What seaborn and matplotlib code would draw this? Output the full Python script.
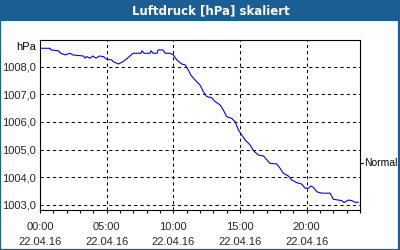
import matplotlib
matplotlib.use("Agg")
import matplotlib.pyplot as plt
import matplotlib.transforms as mtransforms
from matplotlib.patches import Rectangle
import seaborn as sns
import pandas as pd

# ---- data (hours after 22.04.16 00:00, pressure in hPa) ----
hours = [0.00, 0.75, 0.83, 1.37, 1.55, 1.88, 2.25, 2.45, 3.25, 3.38, 3.50, 3.75,
         3.95, 4.20, 4.45, 4.75, 5.00, 5.38, 5.50, 5.88, 6.20, 6.55, 6.75, 6.98,
         7.58, 7.65, 7.80, 8.25, 8.33, 8.48, 8.78, 8.85, 9.23, 9.38, 9.75, 10.00,
         10.25, 10.63, 10.88, 11.13, 11.31, 11.63, 12.00, 12.25, 12.51, 12.88,
         13.13, 13.50, 13.75, 14.01, 14.38, 14.63, 14.88, 15.13, 15.38, 15.75,
         16.00, 16.38, 16.75, 17.01, 17.25, 17.75, 18.01, 18.25, 18.63, 18.88,
         19.26, 19.63, 19.88, 20.13, 20.31, 20.50, 20.76, 21.13, 21.76, 22.00,
         22.63, 22.81, 23.13, 23.38, 23.63, 23.88]
pressure = [1008.67, 1008.67, 1008.61, 1008.58, 1008.49, 1008.43, 1008.49, 1008.43,
            1008.39, 1008.31, 1008.37, 1008.31, 1008.39, 1008.31, 1008.39, 1008.37,
            1008.27, 1008.25, 1008.18, 1008.10, 1008.18, 1008.31, 1008.39, 1008.49,
            1008.49, 1008.58, 1008.49, 1008.49, 1008.58, 1008.49, 1008.49, 1008.61,
            1008.61, 1008.49, 1008.49, 1008.43, 1008.25, 1008.10, 1008.07, 1007.88,
            1007.70, 1007.52, 1007.34, 1007.10, 1006.92, 1006.88, 1006.74, 1006.62,
            1006.43, 1006.19, 1006.13, 1006.01, 1005.71, 1005.53, 1005.35, 1005.17,
            1004.96, 1004.80, 1004.77, 1004.63, 1004.50, 1004.48, 1004.32, 1004.14,
            1004.04, 1003.90, 1003.80, 1003.75, 1003.60, 1003.60, 1003.68, 1003.63,
            1003.47, 1003.42, 1003.42, 1003.20, 1003.15, 1003.08, 1003.17, 1003.15,
            1003.09, 1003.09]

x_ticks = [0, 5, 10, 15, 20]
x_labels = ["00:00\n22.04.16", "05:00\n22.04.16", "10:00\n22.04.16",
            "15:00\n22.04.16", "20:00\n22.04.16"]
y_ticks = [1003, 1004, 1005, 1006, 1007, 1008]
y_labels = ["1003,0", "1004,0", "1005,0", "1006,0", "1007,0", "1008,0"]
normal_level = 1004.51
title = "Luftdruck [hPa] skaliert"

sns.set_theme(style="white")
plt.rcParams["font.family"] = ["Liberation Sans", "DejaVu Sans"]

BLUE = "#1b5e95"
fig = plt.figure(figsize=(4, 2.5), dpi=100)
fig.patch.set_facecolor("white")

# title bar and border
fig.patches.append(Rectangle((0, 1 - 20.5 / 250), 1, 20.5 / 250, transform=fig.transFigure,
                             facecolor=BLUE, edgecolor="none", zorder=0))
fig.patches.append(Rectangle((0.001, 0.002), 0.996, 0.996, transform=fig.transFigure,
                             facecolor="none", edgecolor=BLUE, linewidth=1.6, zorder=5))
fig.text(0.528, 1 - 10.5 / 250, title, color="white", ha="center", va="center",
         fontsize=8.5, fontweight="bold", family=["DejaVu Sans"])

ax = fig.add_axes([40 / 400, 40 / 250, 320 / 400, 170 / 250])
df = pd.DataFrame({"h": hours, "p": pressure})
sns.lineplot(data=df, x="h", y="p", ax=ax, color="#0000ee", linewidth=0.8)

ax.set_xlim(0, 24)
ax.set_ylim(1002.81, 1008.97)
ax.set_xlabel("")
ax.set_ylabel("")

ax.set_xticks(x_ticks)
ax.set_xticklabels(x_labels, fontsize=8, linespacing=1.6)
ax.set_xticks(list(range(0, 25)), minor=True)
ax.set_yticks(y_ticks)
ax.set_yticklabels(y_labels, fontsize=8)

ax.tick_params(axis="x", which="both", direction="out", length=2.5, width=0.8,
               color="black", pad=6, bottom=True)
ax.tick_params(axis="y", which="both", length=0, pad=3)

for s in ax.spines.values():
    s.set_color("black")
    s.set_linewidth(0.8)

# grid lines
for yv in y_ticks:
    ax.axhline(yv, color="black", linewidth=0.75, linestyle=(0, (3, 3)), zorder=1)
for xv in x_ticks[1:]:
    ax.axvline(xv, color="black", linewidth=0.75, linestyle=(0, (3, 3)), zorder=1)

# hPa unit label and Normal marker
trans_l = mtransforms.blended_transform_factory(ax.transAxes, ax.transData)
ax.text(-0.012, 1008.72, "hPa", transform=trans_l, ha="right", va="center",
        fontsize=8, color="black")
ax.text(1.012, normal_level, "Normal", transform=trans_l, ha="left", va="center",
        fontsize=7.5, color="black")
ax.plot([1.0, 1.008], [normal_level, normal_level], transform=trans_l, color="black",
        linewidth=0.8, clip_on=False)

fig.savefig("out.png", dpi=100, facecolor=fig.get_facecolor())
